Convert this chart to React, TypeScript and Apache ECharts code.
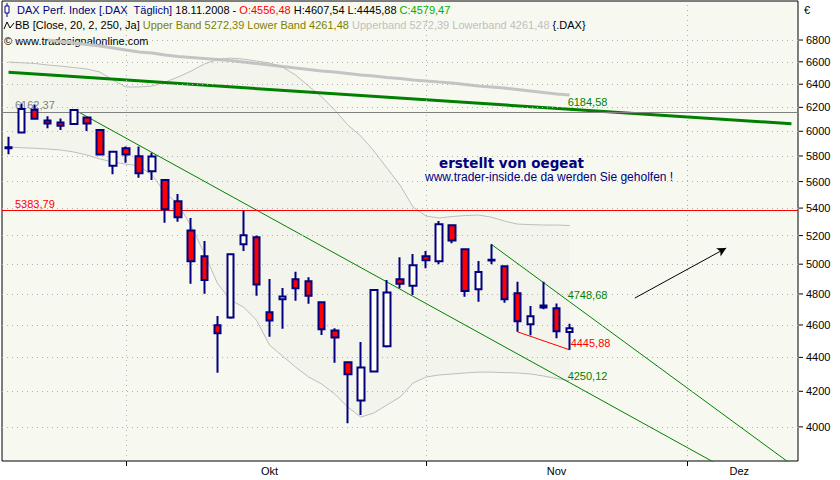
import React, { useEffect, useRef } from 'react';
import * as echarts from 'echarts';

// Trading days (categories), 18.09.2008 .. 11.12.2008
const dates = [
  '18.09.2008','19.09.2008','22.09.2008','23.09.2008','24.09.2008','25.09.2008','26.09.2008','29.09.2008','30.09.2008',
  '01.10.2008','02.10.2008','03.10.2008','06.10.2008','07.10.2008','08.10.2008','09.10.2008','10.10.2008','13.10.2008','14.10.2008','15.10.2008','16.10.2008','17.10.2008','20.10.2008','21.10.2008','22.10.2008','23.10.2008','24.10.2008','27.10.2008','28.10.2008','29.10.2008','30.10.2008','31.10.2008',
  '03.11.2008','04.11.2008','05.11.2008','06.11.2008','07.11.2008','10.11.2008','11.11.2008','12.11.2008','13.11.2008','14.11.2008','17.11.2008','18.11.2008','19.11.2008','20.11.2008','21.11.2008','24.11.2008','25.11.2008','26.11.2008','27.11.2008','28.11.2008',
  '01.12.2008','02.12.2008','03.12.2008','04.12.2008','05.12.2008','08.12.2008','09.12.2008','10.12.2008','11.12.2008',
];

// [open, close, low, high]
const ohlc = [
  [5870, 5862, 5813, 5955],
  [5990, 6186, 5985, 6232],
  [6180, 6105, 6100, 6225],
  [6090, 6064, 6024, 6124],
  [6072, 6045, 6010, 6106],
  [6060, 6177, 6055, 6185],
  [6115, 6064, 6003, 6120],
  [6010, 5812, 5805, 6018],
  [5723, 5834, 5656, 5840],
  [5861, 5812, 5747, 5877],
  [5798, 5664, 5630, 5877],
  [5679, 5795, 5612, 5826],
  [5612, 5391, 5292, 5615],
  [5450, 5332, 5300, 5505],
  [5237, 5020, 4867, 5327],
  [5054, 4893, 4801, 5161],
  [4598, 4548, 4308, 4657],
  [4648, 5068, 4640, 5068],
  [5138, 5202, 5091, 5380],
  [5188, 4863, 4788, 5200],
  [4681, 4629, 4526, 4899],
  [4765, 4784, 4577, 4839],
  [4897, 4837, 4756, 4949],
  [4884, 4788, 4736, 4911],
  [4745, 4573, 4537, 4750],
  [4566, 4522, 4368, 4580],
  [4370, 4300, 4020, 4375],
  [4148, 4340, 4066, 4494],
  [4315, 4826, 4312, 4830],
  [4467, 4810, 4460, 4893],
  [4897, 4867, 4837, 5047],
  [4854, 4993, 4793, 5070],
  [5054, 5027, 4972, 5091],
  [5020, 5281, 4999, 5305],
  [5274, 5166, 5145, 5280],
  [5103, 4819, 4782, 5105],
  [4831, 4946, 4749, 5022],
  [5025, 5030, 4999, 5138],
  [4986, 4765, 4742, 4990],
  [4804, 4623, 4557, 4881],
  [4604, 4655, 4535, 4721],
  [4725, 4712, 4700, 4881],
  [4706, 4560, 4517, 4738],
  [4556.48, 4579.47, 4445.88, 4607.54],
];

// Bollinger lines
const outerBand = [null,null,null,6800,6786,6772,6758,6744,6726,6707,6689,6680,6661,6648,6639,6630,6621,6611,6598,6584,6571,6557,6544,6530,6517,6508,6495,6481,6472,6459,6450,6437,6428,6419,6411,6397,6384,6376,6367,6354,6341,6328,6315,6306];
const upperBand = [6598,6591,6585,6571,6561,6548,6535,6508,6437,6376,6376,6384,6419,6464,6517,6580,6621,6634,6625,6607,6589,6553,6481,6384,6289,6177,6052,5961,5840,5705,5573,5408,5341,5327,5338,5345,5349,5333,5305,5283,5279,5276,5276,5272.39];
const lowerBand = [5872,5866,5862,5856,5848,5832,5808,5776,5752,5736,5721,5650,5513,5430,5268,5077,4872,4760,4715,4631,4475,4408,4342,4283,4242,4184,4110,4054,4077,4122,4167,4248,4283,4295,4301,4307,4312,4312,4309,4307,4301,4289,4274,4261.48];

// Trend lines: [category index, value]
const trendLong = [[0, 6506], [43, 6184.58], [60, 6062]];
const trendDown = [[5, 6183], [43, 4250.12], [60, 3593]];
const trendChannel = [[37, 5138], [43, 4748.68], [60, 3799]];
const supportLine = [[39, 4557], [43, 4445.88]];
const arrowLine = [[48, 4773], [55, 5112]];
const levelGray = 6162.37;
const levelRed = 5383.79;

// Axis ticks
const yTicks = [4000, 4200, 4400, 4600, 4800, 5000, 5200, 5400, 5600, 5800, 6000, 6200, 6400, 6600, 6800];
const monthTickIdx = [9, 32, 52];
const monthLabelIdx = [20, 42, 56];
const monthNames = ['Okt', 'Nov', 'Dez'];

const FONT = 'Liberation Sans';
const fmt = (v: number) => v.toFixed(2).replace('.', ',');

export default function App() {
  const ref = useRef<HTMLDivElement>(null);
  useEffect(() => {
    if (!ref.current) return;
    const chart = echarts.init(ref.current, null, { renderer: 'svg' });
    const last = ohlc[ohlc.length - 1];
    const bandWidth = upperBand.map((u, i) => u - lowerBand[i]);

    const labelAt43 = (pairs: number[][], color: string, dx: number, dy: number) =>
      pairs.map((p) =>
        p[0] === 43
          ? {
              value: p,
              label: {
                show: true,
                formatter: fmt(p[1]),
                position: [dx, dy],
                align: 'left',
                verticalAlign: 'middle',
                color,
                fontSize: 11,
                fontFamily: FONT,
              },
            }
          : { value: p }
      );

    const trendSeries = (data: any[], color: string, width: number) => ({
      type: 'line',
      data,
      symbol: 'circle',
      symbolSize: 0,
      showSymbol: true,
      showAllSymbol: true,
      clip: true,
      silent: true,
      z: 4,
      lineStyle: { color, width },
      itemStyle: { color },
      label: { show: false },
      emphasis: { disabled: true },
    });

    const option: any = {
      animation: false,
      backgroundColor: '#ffffff',
      grid: {
        left: 2,
        right: 42,
        top: 1,
        bottom: 19,
        show: true,
        backgroundColor: '#f7f9f0',
        borderColor: '#000000',
        borderWidth: 1,
      },
      xAxis: {
        type: 'category',
        data: dates,
        boundaryGap: true,
        axisLine: { show: false },
        axisTick: {
          show: true,
          alignWithLabel: true,
          interval: (i: number) => monthTickIdx.includes(i),
          length: 5,
          lineStyle: { color: '#000000' },
        },
        axisLabel: {
          interval: (i: number) => monthLabelIdx.includes(i),
          formatter: (_v: string, i: number) => monthNames[monthLabelIdx.indexOf(i)] || '',
          color: '#000000',
          fontSize: 11,
          fontFamily: FONT,
          margin: 4,
        },
        splitLine: { show: false },
      },
      yAxis: {
        type: 'log',
        logBase: 10,
        min: 3817,
        max: 7174,
        show: false,
      },
      graphic: [
        { type: 'line', shape: { x1: 7, y1: 3, x2: 7, y2: 17 }, style: { stroke: '#000080', lineWidth: 1 } },
        { type: 'rect', shape: { x: 5, y: 6, width: 4, height: 7 }, style: { fill: '#ffffff', stroke: '#000080', lineWidth: 1 } },
        {
          type: 'text',
          x: 17,
          y: 10,
          style: {
            text:
              '{n|DAX Perf. Index [.DAX  Täglich]} {k|' + dates[43] + ' -} {r|O:' + fmt(last[0]) + '} {k|H:' + fmt(last[3]) + ' L:' + fmt(last[2]) + '} {g|C:' + fmt(last[1]) + '}',
            fontFamily: FONT,
            fontSize: 11,
            fill: '#000000',
            verticalAlign: 'middle',
            rich: {
              n: { fill: '#000080', fontFamily: FONT, fontSize: 11 },
              k: { fill: '#000000', fontFamily: FONT, fontSize: 11 },
              r: { fill: '#ff0000', fontFamily: FONT, fontSize: 11 },
              g: { fill: '#00b000', fontFamily: FONT, fontSize: 11 },
            },
          },
        },
        { type: 'polyline', shape: { points: [[4, 29], [7, 22], [10, 28], [14, 23]] }, style: { stroke: '#000000', fill: null, lineWidth: 1 } },
        {
          type: 'text',
          x: 15,
          y: 25,
          style: {
            text:
              'BB [Close, 20, 2, 250, Ja] {o|Upper Band ' + fmt(upperBand[43]) + ' Lower Band ' + fmt(lowerBand[43]) + '} {l|Upperband ' + fmt(upperBand[43]) + ' Lowerband ' + fmt(lowerBand[43]) + '} {.DAX}',
            fontFamily: FONT,
            fontSize: 11,
            fill: '#000000',
            verticalAlign: 'middle',
            rich: {
              o: { fill: '#808000', fontFamily: FONT, fontSize: 11 },
              l: { fill: '#c0c0c0', fontFamily: FONT, fontSize: 11 },
            },
          },
        },
        {
          type: 'text',
          x: 4,
          y: 41,
          style: { text: '© www.tradesignalonline.com', fontFamily: FONT, fontSize: 11, fill: '#000000', verticalAlign: 'middle' },
        },
        {
          type: 'text',
          x: 804,
          y: 10,
          style: { text: '€', fontFamily: FONT, fontSize: 11, fill: '#000000', verticalAlign: 'middle' },
        },
        {
          type: 'text',
          x: 439,
          y: 163,
          style: { text: 'erstellt von oegeat', fontFamily: 'DejaVu Sans', fontWeight: 'bold', fontSize: 13.5, fill: '#000080', verticalAlign: 'middle' },
        },
        {
          type: 'text',
          x: 425,
          y: 177,
          style: { text: 'www.trader-inside.de da werden Sie geholfen !', fontFamily: FONT, fontSize: 12, fill: '#000080', verticalAlign: 'middle' },
        },
      ],
      series: [
        {
          type: 'line',
          data: lowerBand,
          stack: 'bb',
          symbol: 'none',
          silent: true,
          z: 1,
          lineStyle: { width: 0, opacity: 0 },
        },
        {
          type: 'line',
          data: bandWidth,
          stack: 'bb',
          symbol: 'none',
          silent: true,
          z: 1,
          lineStyle: { width: 0, opacity: 0 },
          areaStyle: { color: '#f3f5ec', opacity: 1 },
        },
        {
          type: 'line',
          data: [],
          z: 2,
          silent: true,
          markLine: {
            silent: true,
            symbol: 'none',
            emphasis: { disabled: true },
            lineStyle: { color: '#b0b0b0', type: [1, 4], width: 1 },
            label: { show: false },
            data: [
              ...yTicks.map((v) => ({
                yAxis: v,
                label: {
                  show: true,
                  position: 'end',
                  distance: 1,
                  formatter: '{d|}{v|' + v + '}',
                  rich: {
                    d: { width: 4, height: 1, backgroundColor: '#000000' },
                    v: { padding: [0, 0, 0, 3], fontSize: 11, fontFamily: FONT, color: '#000000' },
                  },
                },
              })),
              ...monthTickIdx.map((i) => ({ xAxis: dates[i] })),
            ],
          },
        },
        {
          type: 'line',
          data: outerBand,
          symbol: 'none',
          silent: true,
          z: 2,
          lineStyle: { color: '#c4c4c4', width: 3 },
        },
        {
          type: 'line',
          data: upperBand,
          symbol: 'none',
          silent: true,
          z: 2,
          lineStyle: { color: '#bcbcbc', width: 1 },
        },
        {
          type: 'line',
          data: lowerBand,
          symbol: 'none',
          silent: true,
          z: 2,
          lineStyle: { color: '#bcbcbc', width: 1 },
        },
        {
          type: 'line',
          data: [],
          z: 3,
          silent: true,
          markLine: {
            silent: true,
            symbol: 'none',
            emphasis: { disabled: true },
            data: [
              {
                yAxis: levelGray,
                lineStyle: { color: '#808080', width: 1, type: 'solid' },
                label: { show: true, position: 'insideStartTop', distance: [13, 1], formatter: fmt(levelGray), color: '#808080', fontSize: 11, fontFamily: FONT },
              },
              {
                yAxis: levelRed,
                lineStyle: { color: '#ff0000', width: 1, type: 'solid' },
                label: { show: true, position: 'insideStartTop', distance: [13, 1], formatter: fmt(levelRed), color: '#ff0000', fontSize: 11, fontFamily: FONT },
              },
            ],
          },
        },
        trendSeries(labelAt43(trendLong, '#008000', -2, -7), '#008000', 3),
        trendSeries(labelAt43(trendDown, '#008000', -2, -7), '#008000', 1),
        trendSeries(labelAt43(trendChannel, '#008000', -2, -7), '#008000', 1),
        trendSeries(labelAt43(supportLine, '#ff0000', 1, -7), '#ff0000', 1),
        {
          type: 'line',
          data: [],
          z: 4,
          silent: true,
          markLine: {
            silent: true,
            symbol: ['none', 'arrow'],
            symbolSize: [7, 9],
            emphasis: { disabled: true },
            lineStyle: { color: '#000000', width: 1, type: 'solid' },
            label: { show: false },
            data: [[{ coord: [dates[arrowLine[0][0]], arrowLine[0][1]] }, { coord: [dates[arrowLine[1][0]], arrowLine[1][1]] }]],
          },
        },
        {
          type: 'candlestick',
          data: ohlc,
          barWidth: 7,
          z: 5,
          silent: true,
          itemStyle: {
            color: '#fffff4',
            color0: '#ff0000',
            borderColor: '#000080',
            borderColor0: '#000080',
            borderWidth: 2,
          },
        },
      ],
    };
    chart.setOption(option);
    return () => chart.dispose();
  }, []);
  return (
    <div
      ref={ref}
      style={{ position: 'fixed', left: 0, top: 0, width: 840, height: 480, background: '#ffffff' }}
    />
  );
}
